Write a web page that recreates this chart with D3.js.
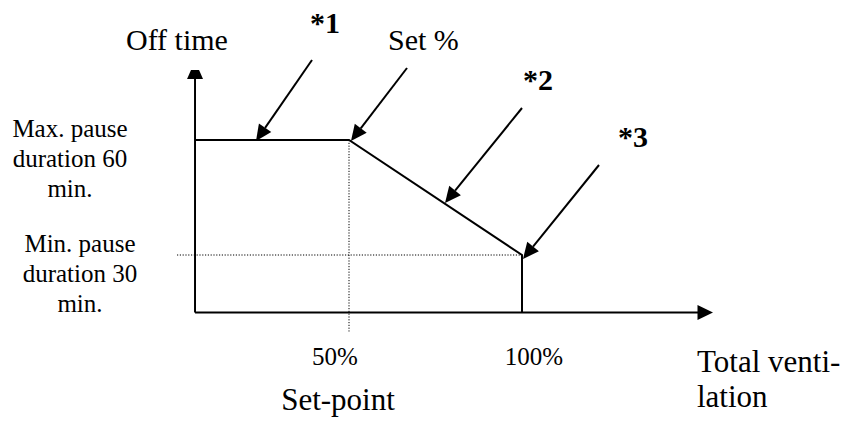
<!DOCTYPE html>
<html>
<head>
<meta charset="utf-8">
<script src="https://cdn.jsdelivr.net/npm/d3@7"></script>
</head>
<body style="margin:0">
<script>
// ---- data ----
const xTickValues = [50, 100];
const xTickLabels = ["50%", "100%"];
const curveX = [5.5, 50, 100, 100];   // % of total ventilation
const curveY = [60, 60, 30, 15];      // off time (min)
const yLevelLabels = [
  ["Max. pause", "duration 60", "min."],
  ["Min. pause", "duration 30", "min."]
];
const noteLabels = ["*1", "Set %", "*2", "*3"];
const xAxisTitle = ["Total venti-", "lation"];
const yAxisTitle = "Off time";
const xSubTitle = "Set-point";

// ---- layout ----
const W = 846, H = 423;
const x = d3.scaleLinear().domain([0, 100]).range([176, 522]);
const y = d3.scaleLinear().domain([15, 60]).range([312.5, 140]);
const axisX0 = x(5.5), axisY0 = y(15);
const xAxisEnd = 713, yAxisTop = 70;

const notes = [
  {lx: 325, ly: 33, x1: 312, y1: 60, x2: 256, y2: 141, bold: true},
  {lx: 388, ly: 50, x1: 407, y1: 68, x2: 351, y2: 141, bold: false, anchor: "start"},
  {lx: 538, ly: 90, x1: 522, y1: 108, x2: 445, y2: 203, bold: true},
  {lx: 633, ly: 147, x1: 599, y1: 165, x2: 523, y2: 259, bold: true}
];

const svg = d3.select("body").append("svg").attr("width", W).attr("height", H)
  .attr("font-family", "Liberation Serif");

function addText(sel) {
  return sel.append("text").attr("font-family", "Liberation Serif")
    .style("font-family", '"Liberation Serif"');
}

function arrowHead(x1, y1, x2, y2, len, half) {
  const a = Math.atan2(y2 - y1, x2 - x1);
  const bx = x2 - len * Math.cos(a), by = y2 - len * Math.sin(a);
  const px = -Math.sin(a) * half, py = Math.cos(a) * half;
  return [[x2, y2], [bx + px, by + py], [bx - px, by - py]];
}

// dotted guides
svg.append("line")
  .attr("x1", x(50)).attr("x2", x(50))
  .attr("y1", y(60)).attr("y2", axisY0 + 19)
  .attr("stroke", "#000").attr("stroke-width", 1).attr("stroke-dasharray", "1.2,1.6");
svg.append("line")
  .attr("x1", x(0) + 1).attr("x2", x(100))
  .attr("y1", y(30)).attr("y2", y(30))
  .attr("stroke", "#000").attr("stroke-width", 1).attr("stroke-dasharray", "1.2,1.6");

// axes
svg.append("line").attr("x1", axisX0).attr("x2", axisX0).attr("y1", axisY0).attr("y2", yAxisTop + 6)
  .attr("stroke", "#000").attr("stroke-width", 2);
svg.append("line").attr("x1", axisX0).attr("x2", xAxisEnd - 6).attr("y1", axisY0).attr("y2", axisY0)
  .attr("stroke", "#000").attr("stroke-width", 2);
svg.append("polygon")
  .attr("points", [[axisX0 - 4, yAxisTop], [axisX0 + 4, yAxisTop], [axisX0 + 8, yAxisTop + 9], [axisX0 - 8, yAxisTop + 9]].join(" "))
  .attr("fill", "#000");
svg.append("polygon")
  .attr("points", arrowHead(xAxisEnd - 20, axisY0, xAxisEnd, axisY0, 15.5, 7.5).join(" "))
  .attr("fill", "#000");

// curve
const pts = curveX.map((v, i) => [x(v), y(curveY[i])]);
svg.append("path")
  .attr("d", d3.line()(pts))
  .attr("fill", "none").attr("stroke", "#000").attr("stroke-width", 2).attr("stroke-linejoin", "miter");

// annotations
notes.forEach((n, i) => {
  const head = arrowHead(n.x1, n.y1, n.x2, n.y2, 16, 7.5);
  const base = [(head[1][0] + head[2][0]) / 2, (head[1][1] + head[2][1]) / 2];
  svg.append("line").attr("x1", n.x1).attr("y1", n.y1).attr("x2", base[0]).attr("y2", base[1])
    .attr("stroke", "#000").attr("stroke-width", 2);
  svg.append("polygon").attr("points", head.join(" ")).attr("fill", "#000");
  addText(svg).attr("x", n.lx).attr("y", n.ly)
    .attr("text-anchor", n.anchor || "middle")
    .attr("font-size", 30)
    .attr("font-weight", n.bold ? "bold" : "normal")
    .text(noteLabels[i]);
});

// y axis title
addText(svg).attr("x", 126).attr("y", 50).attr("font-size", 30).text(yAxisTitle);

// y level labels
const levelCenters = [70, 80];
const levelBaselines = [137, 252];
yLevelLabels.forEach((lines, i) => {
  const t = addText(svg).attr("text-anchor", "middle").attr("font-size", 25);
  lines.forEach((s, j) => {
    t.append("tspan").attr("x", levelCenters[i]).attr("y", levelBaselines[i] + j * 30).text(s);
  });
});

// x tick labels
xTickValues.forEach((v, i) => {
  addText(svg).attr("x", x(v) + (i === 0 ? -14 : 12)).attr("y", 365)
    .attr("text-anchor", "middle").attr("font-size", 25).text(xTickLabels[i]);
});

// set-point subtitle
addText(svg).attr("x", x(50) - 11).attr("y", 410).attr("text-anchor", "middle")
  .attr("font-size", 31).text(xSubTitle);

// x axis title
const xt = addText(svg).attr("font-size", 31);
xAxisTitle.forEach((s, j) => {
  xt.append("tspan").attr("x", 697).attr("y", 372 + j * 35).text(s);
});
</script>
</body>
</html>
